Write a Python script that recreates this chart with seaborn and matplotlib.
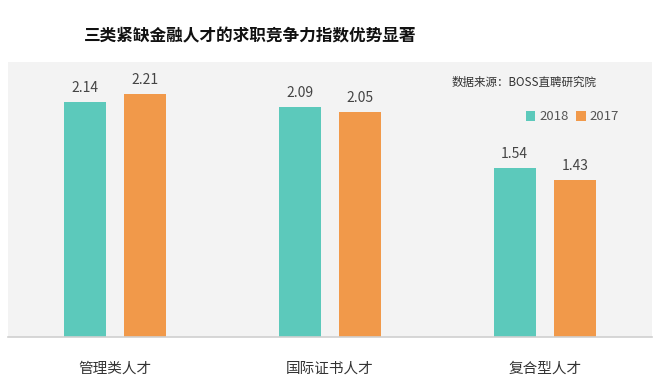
import matplotlib
matplotlib.use("Agg")
import matplotlib.pyplot as plt
import seaborn as sns
import pandas as pd
from matplotlib.patches import Patch

categories = ["管理类人才", "国际证书人才", "复合型人才"]
years = ["2018", "2017"]
values_2018 = [2.14, 2.09, 1.54]
values_2017 = [2.21, 2.05, 1.43]
colors = ["#5cc9bb", "#f1994a"]

df = pd.DataFrame({
    "cat": categories * 2,
    "year": [years[0]] * 3 + [years[1]] * 3,
    "val": values_2018 + values_2017,
})

sns.set_theme(style="white")
plt.rcParams["font.family"] = ["Noto Sans CJK SC", "DejaVu Sans"]

fig = plt.figure(figsize=(6.58, 3.85), dpi=100)
ax = fig.add_axes([8 / 658, 48 / 385, 644 / 658, 275 / 385])
ax.set_facecolor("#f3f3f3")

sns.barplot(data=df, x="cat", y="val", hue="year", hue_order=years,
            palette=colors, width=0.56, gap=0.3, ax=ax, legend=False,
            saturation=1, linewidth=0)

for cont in ax.containers:
    ax.bar_label(cont, fmt="%.2f", padding=5, fontsize=10, color="#444444")

ax.set_ylim(0, 2.5)
ax.set_xlim(-0.5, 2.5)
ax.set_xlabel("")
ax.set_ylabel("")
ax.set_yticks([])
ax.tick_params(axis="x", length=0, pad=18, labelsize=10.5, labelcolor="#333333")
for s in ["top", "left", "right"]:
    ax.spines[s].set_visible(False)
ax.spines["bottom"].set_color("#d0d0d0")
ax.spines["bottom"].set_linewidth(1.2)

fig.text(250 / 658, 1 - 36 / 385, "三类紧缺金融人才的求职竞争力指数优势显著",
         ha="center", va="center", fontsize=12, fontweight="heavy", color="#111111")
fig.text(452 / 658, 1 - 82 / 385, "数据来源：BOSS直聘研究院",
         ha="left", va="center", fontsize=8.3, color="#333333")

handles = [Patch(facecolor=c, edgecolor="none") for c in colors]
fig.legend(handles, years, loc="center left", bbox_to_anchor=(514 / 658, 1 - 117 / 385),
           ncol=2, frameon=False, fontsize=9.5, handlelength=0.7, handleheight=0.7,
           handletextpad=0.3, columnspacing=0.6, labelcolor="#555555")

fig.savefig("out.png", dpi=100, facecolor="white")
